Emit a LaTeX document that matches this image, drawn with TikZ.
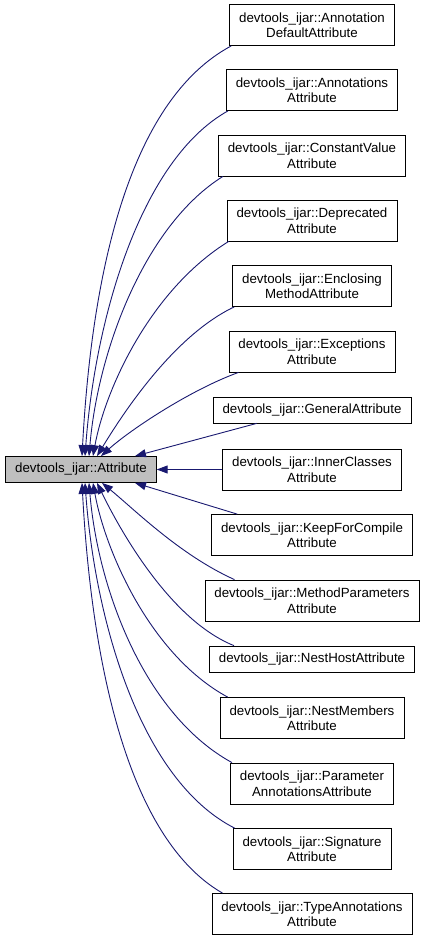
\documentclass[tikz,border=0pt]{standalone}
\usepackage{fontspec}
\setmainfont{Liberation Sans}
\usetikzlibrary{arrows.meta}
\definecolor{edgeblue}{HTML}{191970}
\definecolor{basegray}{HTML}{BFBFBF}

\begin{document}
\begin{tikzpicture}[x=1pt,y=-1pt,>={Triangle[length=11pt,width=8pt]},
	cls/.style={draw=black,fill=white,line width=0.8pt,inner xsep=9.5pt,inner ysep=1pt,minimum height=26pt,align=center,font=\fontsize{13.3}{15.5}\selectfont},
	cls2/.style={cls,minimum height=41pt},
	basecls/.style={cls,fill=basegray},
	edge/.style={->,draw=edgeblue,line width=0.9pt}]
	\useasboundingbox (0,0) rectangle (424,940);
	\node[basecls] (base) at (81,469.5) {devtools\_ijar::Attribute};
	\node[cls2] (d1) at (312,25) {devtools\_ijar::Annotation\\DefaultAttribute};
	\node[cls2] (d2) at (312,90) {devtools\_ijar::Annotations\\Attribute};
	\node[cls2] (d3) at (312,155.5) {devtools\_ijar::ConstantValue\\Attribute};
	\node[cls2] (d4) at (312,220.5) {devtools\_ijar::Deprecated\\Attribute};
	\node[cls2] (d5) at (312,286) {devtools\_ijar::Enclosing\\MethodAttribute};
	\node[cls2] (d6) at (312,351.5) {devtools\_ijar::Exceptions\\Attribute};
	\node[cls] (d7) at (312,410) {devtools\_ijar::GeneralAttribute};
	\node[cls2] (d8) at (312,469.5) {devtools\_ijar::InnerClasses\\Attribute};
	\node[cls2] (d9) at (312,535) {devtools\_ijar::KeepForCompile\\Attribute};
	\node[cls2] (d10) at (312,600.5) {devtools\_ijar::MethodParameters\\Attribute};
	\node[cls] (d11) at (312,659) {devtools\_ijar::NestHostAttribute};
	\node[cls2] (d12) at (312,718) {devtools\_ijar::NestMembers\\Attribute};
	\node[cls2] (d13) at (312,783.5) {devtools\_ijar::Parameter\\AnnotationsAttribute};
	\node[cls2] (d14) at (312,849) {devtools\_ijar::Signature\\Attribute};
	\node[cls2] (d15) at (312,914) {devtools\_ijar::TypeAnnotations\\Attribute};

	\draw[edge] ([xshift=2pt]d1.south west) .. controls (130,100) and (92,270) .. ([xshift=1pt]base.north);
	\draw[edge] ([xshift=2pt]d2.south west) .. controls (140,160) and (95,320) .. ([xshift=4pt]base.north);
	\draw[edge] ([xshift=5pt]d3.south west) .. controls (145,225) and (98,350) .. ([xshift=8pt]base.north);
	\draw[edge] ([xshift=2pt]d4.south west) .. controls (150,290) and (105,390) .. ([xshift=12pt]base.north);
	\draw[edge] ([xshift=2pt]d5.south west) .. controls (175,335) and (125,410) .. ([xshift=16pt]base.north);
	\draw[edge] ([xshift=10pt]d6.south west) .. controls (190,390) and (130,430) .. ([xshift=20pt]base.north);
	\draw[edge] ([xshift=44pt]d7.south west) -- ([xshift=54pt]base.north);
	\draw[edge] (d8.west) -- (base.east);
	\draw[edge] ([xshift=26pt]d9.north west) -- ([xshift=54pt]base.south);
	\draw[edge] ([xshift=30pt]d10.north west) .. controls (180,555) and (135,510) .. ([xshift=21pt]base.south);
	\draw[edge] ([xshift=25pt]d11.north west) .. controls (170,620) and (120,530) .. ([xshift=16pt]base.south);
	\draw[edge] ([xshift=8pt]d12.north west) .. controls (150,655) and (105,550) .. ([xshift=12pt]base.south);
	\draw[edge] ([xshift=2pt]d13.north west) .. controls (145,715) and (98,590) .. ([xshift=8pt]base.south);
	\draw[edge] ([xshift=2pt]d14.north west) .. controls (140,780) and (95,620) .. ([xshift=4pt]base.south);
	\draw[edge] ([xshift=11pt]d15.north west) .. controls (130,840) and (92,670) .. ([xshift=1pt]base.south);
\end{tikzpicture}
\end{document}
